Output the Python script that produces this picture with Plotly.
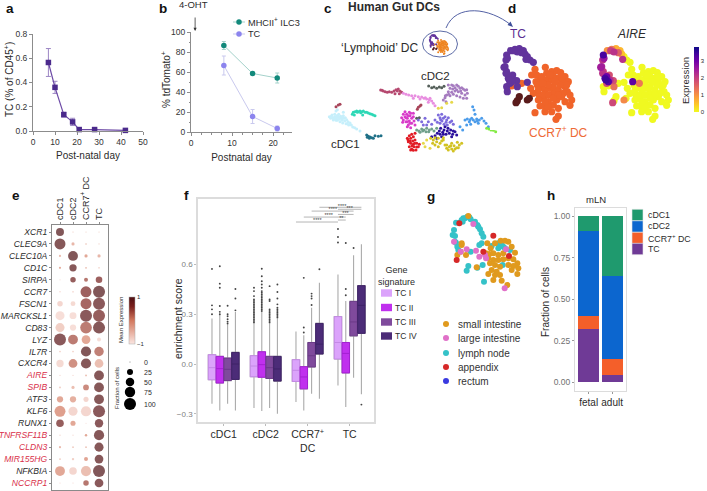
import numpy as np
import plotly.graph_objects as go

W, H = 707, 491
FONT = "Liberation Sans"
DARK = "#2b2b2b"

# ---------- panel a ----------
a_day = [7, 10, 14, 18, 21, 28, 42]
a_tc = [0.565, 0.36, 0.135, 0.075, 0.012, 0.012, 0.005]
a_err = [0.115, 0.05, 0.02, 0.03, 0.01, 0.01, 0.005]
# ---------- panel b ----------
b_day = [8, 15, 21]
b_ilc3 = [86.5, 58.5, 54]
b_ilc3_err = [4, 1.5, 5]
b_tc = [66.5, 15.5, 3.5]
b_tc_err = [9.5, 7, 2.5]
# ---------- panel c : embedding clusters ----------
c_lightblue = [(28,125),(32,130),(36,120),(38,128),(40,135),(44,118),(44,125),(46,132),(50,122),(50,128),(52,136),(56,118),(56,126),(58,132),(60,140),(62,124),(64,130),(66,136),(68,144),(70,122),(72,130),(74,138),(76,128),(78,146),(80,134),(84,140),(86,150),(90,144),(94,150),(98,156),(104,158),(110,162),(120,168),(48,108),(52,104),(70,112),(34,124),(42,130),(54,122),(60,128),(48,136),(68,130),(82,146)]
c_turquoise = [(97,118),(100,112),(105,110),(110,108),(115,110),(120,108),(125,110),(130,108),(135,112),(140,112),(145,114),(150,116),(155,118),(160,120),(165,122),(103,120),(128,120),(112,112),(122,113)]
c_darkteal = [(140,180),(145,184),(150,186),(155,188),(160,190),(142,187),(165,182),(175,184),(183,182),(148,190)]
c_brown = [(48,95),(55,90),(60,88),(295,97),(300,93),(303,90),(292,103)]
c_rose = [(182,45),(190,48),(196,50),(202,52),(208,50),(215,52),(222,48),(228,44),(235,42),(240,48),(245,52),(238,56),(225,56),(186,46),(232,48)]
c_pink = [(250,55),(258,58),(266,60),(275,62),(285,62),(295,65),(305,66),(312,70),(320,72),(328,74),(335,78),(340,85),(325,82),(300,72),(280,70),(345,92),(316,68),(330,70)]
c_mauve = [(370,75),(375,68),(380,60),(385,50),(390,40),(395,30),(400,32),(405,38),(410,30),(415,34),(420,40),(425,38),(430,42),(435,46),(440,44),(442,55),(435,60),(425,55),(415,50),(405,48),(395,52),(390,62),(400,58),(410,62),(420,66),(430,70),(378,80),(440,70),(385,30),(398,42),(410,44),(422,48),(386,58),(376,62)]
c_grey = [(326,33),(335,38),(342,36),(350,40),(358,36),(365,38),(372,34),(290,130),(298,128)]
c_magenta = [(245,128),(250,118),(250,135),(255,125),(255,110),(258,140),(260,118),(262,130),(265,150),(268,112),(268,138),(270,122),(272,158),(275,130),(275,145),(280,115),(280,125),(282,138),(285,150),(262,155),(248,142),(258,128),(265,122),(270,145),(262,140),(272,115)]
c_violet = [(295,135),(305,140),(315,130),(325,140),(335,148),(310,150),(320,150),(345,135),(355,120),(360,128),(365,118),(370,130),(375,125),(380,135),(385,128),(390,142),(395,138),(360,145),(372,148),(382,150),(400,148),(352,142),(366,138),(378,142),(362,134)]
c_navy = [(335,185),(345,182),(352,175),(358,168),(362,160),(368,172),(372,165),(378,178),(382,168),(388,175),(392,165),(398,178),(405,170),(410,180),(375,155),(365,185),(395,185),(350,190),(370,178),(384,160),(400,168),(360,178)]
c_sage = [(290,165),(297,168),(305,162),(312,165),(320,160),(328,165),(335,162),(342,168),(350,160),(318,170),(300,172),(308,168),(326,170)]
c_red = [(262,190),(268,182),(272,190),(275,178),(280,185),(265,200),(272,205),(278,198),(285,195),(290,205),(268,215),(275,222),(282,215),(288,225),(295,215),(298,208),(280,208),(285,175),(272,225),(264,194),(270,198),(276,212),(284,205),(290,216),(280,226)]
c_olive = [(332,190),(340,195),(338,205),(345,210),(350,200),(355,190),(360,205),(365,198),(370,188),(355,215),(375,210),(380,220),(388,215),(395,222),(402,212),(410,218),(418,210),(425,205),(412,202),(395,205),(385,225),(400,228),(370,195),(345,188),(392,212),(405,222),(380,210),(415,218)]
c_blue = [(435,135),(442,132),(448,140),(455,130),(460,135),(465,140),(470,132),(478,135),(485,130),(492,138),(498,145),(505,155),(458,95),(462,105),(465,118),(452,148),(475,145),(440,150),(420,155),(428,165),(450,134),(472,138)]
c_lime = [(500,160),(507,162),(513,165),(520,166),(527,170)]
c_yellow = [(355,100),(365,98),(380,85),(395,82),(320,195),(315,215),(310,205),(330,220)]
c_clusters = [(c_lightblue, "#c6effb"), (c_turquoise, "#2ed8b6"), (c_darkteal, "#1f7087"),
              (c_brown, "#a8455a"), (c_rose, "#b5486f"), (c_pink, "#e88ee0"), (c_mauve, "#a67cc0"),
              (c_grey, "#55605a"), (c_magenta, "#d83cc9"), (c_violet, "#7d6cdc"), (c_navy, "#2a0f9c"),
              (c_sage, "#70a08a"), (c_red, "#e11b24"), (c_olive, "#d2c222"), (c_blue, "#4c9cea"),
              (c_lime, "#82ea42"), (c_yellow, "#e6d84a")]
# ---------- panel d : lymphoid DC embedding and AIRE expression ----------
d_tc = [(52,185),(50,170),(60,160),(70,150),(55,145),(48,130),(42,112),(48,90),(50,75),(62,62),(75,58),(88,56),(100,62),(105,72),(112,80),(120,90),(130,97),(60,140),(68,135),(80,152),(82,170),(112,157),(65,155),(95,68),(82,66),(72,62),(52,85),(45,110),(50,125),(58,150),(108,88)]
d_tc_expr = [0,0,1.8,2.3,3.4,2.2,2.5,2.2,3.4,1.0,1.3,0.7,0.6,0.5,0,0,0,3.0,1.8,1.8,1.4,0,3.3,1.6,2.2,2.0,2.6,2.4,2.0,3.5,2.2]
d_ccr7 = [(166,112),(135,118),(125,135),(140,135),(150,150),(138,155),(95,160),(65,168),(122,175),(130,190),(142,165),(155,140),(170,130),(185,125),(200,122),(212,128),(225,140),(235,155),(225,170),(232,185),(240,195),(245,210),(240,226),(225,215),(215,200),(200,210),(190,190),(178,175),(165,180),(155,172),(148,195),(160,205),(175,215),(165,228),(150,228),(190,225),(205,235),(185,245),(165,245),(135,248),(205,258),(198,268),(170,150),(185,150),(200,145),(215,155),(190,170),(205,180),(160,195),(175,195),(210,165),(190,140),(175,165),(158,160),(145,180),(180,135),(195,155),(215,140),(220,190),(205,195),(190,205),(175,230),(145,210),(165,215),(230,165)]
d_ccr7_expr = [0,0,0,0,0,3.2,0,0,0,0,0,0,0,0,0,0,0,0,0,0,0,0,0,0,0,0,0,0,0,0,0,0,0,0,0,0,0,0,0,0,0,0,0,0,0,0,0,0,0,0,0,0,0,1.3,0,0,0,0,0,0,0,0,0,0,0]
d_other = [(88,200),(82,212),(78,218),(112,210),(118,205)]
d_other_expr = [0,0,1.9,1.1,0]
# ---------- panel e ----------
e_cells = ["cDC1", "cDC2", "CCR7<sup>+</sup> DC", "TC"]
e_genes = ["XCR1","CLEC9A","CLEC10A","CD1C","SIRPA","CCR7","FSCN1","MARCKSL1","CD83","LYZ","IL7R","CXCR4","AIRE","SPIB","ATF3","KLF6","RUNX1","TNFRSF11B","CLDN3","MIR155HG","NFKBIA","NCCRP1"]
e_red_genes = ["AIRE","SPIB","TNFRSF11B","CLDN3","MIR155HG","NCCRP1"]
e_fraction = [[44,1,1,1],[83,7,1.5,0.5],[3,67,7,7],[3,37,2,1.5],[0.5,21,11,30],[1.5,2,83,100],[21,16,83,100],[57,33,100,100],[57,27,94,100],[100,67,53,11],[2,2,72,62],[37,53,72,53],[1,1,2,67],[2,7,23,67],[27,27,18,67],[83,57,72,100],[40,18,1,49],[1,1,4,72],[3,2,2,57],[2,4,11,53],[67,40,72,100],[0.5,0.5,21,53]]
e_mean = [[1,-.5,-.6,-.6],[.95,-.3,-.3,-.6],[-.3,1,-.1,-.3],[-.1,.95,-.3,-.3],[-.8,.75,.4,.65],[-.7,-.7,.65,1],[-.7,-.75,.55,.9],[-.8,-.8,.9,.75],[-.6,-.8,.35,.95],[.9,.35,-.1,-.8],[-.6,-.6,1,.3],[-.75,.15,.95,-.4],[-.7,-.7,-.3,.95],[-.5,-.4,.2,.95],[-.1,-.2,-.7,.95],[0,-.7,-.7,.9],[.75,-.1,-.8,.9],[-.6,-.7,-.1,.95],[-.3,-.5,-.4,.95],[-.5,-.6,-.05,.95],[-.1,-.7,-.4,1],[-.7,-.7,.4,.9]]
e_size_levels = [0, 25, 50, 75, 100]
# ---------- panel f ----------
f_groups = ["cDC1", "cDC2", "CCR7<sup>+</sup><br>DC", "TC"]
f_signatures = ["TC I", "TC II", "TC III", "TC IV"]
f_q1 = [[-.095,-.115,-.10,-.093],[-.077,-.08,-.087,-.103],[-.105,-.15,-.018,.06],[.03,-.054,.17,.185]]
f_med = [[-.022,-.028,-.032,0],[-.012,-.004,-.022,-.03],[-.038,-.078,.05,.12],[.13,.064,.254,.354]]
f_q3 = [[.056,.046,.036,.07],[.05,.074,.046,.046],[.026,-.016,.13,.245],[.286,.13,.378,.473]]
f_low = [[-.24,-.28,-.24,-.28],[-.266,-.284,-.266,-.30],[-.23,-.28,-.18,-.21],[-.13,-.26,-.083,-.183]]
f_up = [[.274,.30,.24,.314],[.244,.314,.244,.274],[.197,.173,.34,.49],[.54,.38,.656,.723]]
f_outliers = [
    [[.30,.33,.354,.574],[.30,.315,.35,.46,.485,.59],[.244,.255,.27,.288,.30,.352],[.324,.395,.453]],
    [[.25,.26,.27,.28,.29,.30,.31,.32,.33,.34,.35,.36,.37,.38,.39,.41,.44,.46],
     [.32,.33,.34,.35,.36,.37,.38,.39,.40,.41,.42,.43,.44,.46,.48,.50,.53,.575],
     [.25,.26,.27,.28,.29,.30,.31,.32,.33,.38,.39,.47],
     [.28,.29,.30,.31,.32,.33,.34,.36,.395,.435,.48]],
    [[],[.19,.22,.52],[.356,.395,.41,.425],[.572]],
    [[.733,.767,.815],[.415,.453,.73],[.70],[-.245]],
]
f_fill = ["#dba3fb", "#c030ee", "#7f4a9c", "#4c2c78"]
f_edge = ["#c488e6", "#a31fd2", "#6a3a88", "#3e2266"]
# brackets: (group, signature) pairs, height, stars, star position as a box index
f_brackets = [((2,3),(3,3),.946,"****",2.82),((3,0),(3,3),.934,"***",3.0),
              ((2,2),(3,2),.923,"****",2.60),((3,0),(3,2),.903,"***",2.90),
              ((2,1),(3,1),.887,"****",2.50),((3,0),(3,1),.869,"**",2.80),
              ((2,0),(3,0),.857,"****",2.23)]
# ---------- panel g ----------
g_teal = [(78,68),(72,90),(68,105),(75,108),(78,128),(82,140),(85,150),(98,65),(105,55),(112,50),(122,58),(135,65),(142,75),(150,88),(155,100),(160,110),(148,135),(155,130),(122,155),(115,198),(110,212),(142,203),(158,195),(162,245),(185,138),(205,130),(215,135),(225,145),(240,150),(205,145),(218,195),(100,55),(118,52),(95,60),(75,125),(88,68),(145,80),(220,140)]
g_orange = [(95,135),(92,155),(82,165),(108,165),(172,130),(195,130),(212,122),(225,122),(235,125),(245,140),(255,158),(182,145),(168,160),(190,160),(205,165),(220,160),(175,175),(190,180),(205,180),(220,178),(235,175),(250,178),(262,190),(250,198),(265,205),(245,210),(262,222),(180,190),(195,195),(210,200),(200,215),(185,210),(175,222),(195,225),(210,225),(190,240),(215,242),(232,255),(140,202),(178,162),(235,195),(115,48),(95,130)]
g_pink = [(130,72),(72,125),(110,148),(92,155),(138,152),(148,170),(165,165),(168,175),(224,265),(228,148)]
g_red = [(88,70),(190,107),(80,180),(237,168),(160,155)]
g_rectum = []
g_tissues = ["small intestine", "large intestine", "lymph node", "appendix", "rectum"]
g_colors = ["#e09a1e", "#e070c8", "#35c2c8", "#d62828", "#3a3ae0"]
# ---------- panel h ----------
h_stage = ["fetal", "adult"]
h_types = ["TC", "CCR7<sup>+</sup> DC", "cDC2", "cDC1"]
h_values = [[.32, .04], [.08, .10], [.51, .50], [.09, .36]]
h_colors = ["#6f3a96", "#f45f2a", "#0c66cf", "#1f9a6e"]

fig = go.Figure()
layout = {}
shapes, notes = [], []
n_ax = [0]


def px(x):
    return x / W


def py(y):
    return 1 - y / H


def axes(x0, x1, y0, y1, xa=None, ya=None):
    n_ax[0] += 1
    n = n_ax[0]
    s = "" if n == 1 else str(n)
    xa, ya = dict(xa or {}), dict(ya or {})
    xa.update(domain=[px(x0), px(x1)], anchor="y" + s)
    ya.update(domain=[py(y1), py(y0)], anchor="x" + s)
    layout["xaxis" + s] = xa
    layout["yaxis" + s] = ya
    return "x" + s, "y" + s


def hidden(xr, yr):
    return dict(visible=False, range=xr, fixedrange=True), dict(visible=False, range=yr, fixedrange=True)


def text(x, y, s, size=10, color=DARK, anchor="left", angle=0, **kw):
    x = x - 1.5 if anchor == "left" else x + 1.5 if anchor == "right" else x
    notes.append(dict(x=px(x), y=py(y), xref="paper", yref="paper", text=s, showarrow=False,
                      font=dict(family=FONT, size=size, color=color), xanchor=anchor, yanchor="middle",
                      textangle=angle, align="center", **kw))


def rect(x0, y0, x1, y1, fill, line=None):
    shapes.append(dict(type="rect", xref="paper", yref="paper", x0=px(x0), x1=px(x1), y0=py(y0), y1=py(y1),
                       fillcolor=fill, line=dict(color=line or fill, width=0.6 if line else 0)))


def dot(x, y, d, fill):
    shapes.append(dict(type="circle", xref="paper", yref="paper", x0=px(x - d / 2), x1=px(x + d / 2),
                       y0=py(y - d / 2), y1=py(y + d / 2), fillcolor=fill, line=dict(width=0)))


def seg(x0, y0, x1, y1, color, width=1):
    shapes.append(dict(type="line", xref="paper", yref="paper", x0=px(x0), x1=px(x1), y0=py(y0), y1=py(y1),
                       line=dict(color=color, width=width)))


def xs(p):
    return [q[0] for q in p]


def ys(p):
    return [q[1] for q in p]


AX = "#8c8c8c"
tick = dict(showgrid=False, zeroline=False, showline=True, linecolor=AX, linewidth=1, ticks="outside",
            ticklen=3, tickcolor=AX, tickfont=dict(family=FONT, size=8.5, color="#333333"), fixedrange=True)
title_f = dict(family=FONT, size=10, color=DARK)

# a
xa, ya = axes(33, 143, 34, 131,
              dict(tick, range=[0, 50], tickvals=[0, 10, 20, 30, 40, 50],
                   title=dict(text="Post-natal day", font=title_f, standoff=5)),
              dict(tick, range=[0, 0.8], tickvals=[0, .2, .4, .6, .8], tickformat=".1f"))
text(9, 80, "TC (% of CD45<sup>+</sup>)", 10, anchor="center", angle=-90)
fig.add_trace(go.Scatter(x=a_day, y=a_tc, xaxis=xa, yaxis=ya, mode="lines+markers", showlegend=False, cliponaxis=False,
                         line=dict(color="#6d4aa6", width=1.2), marker=dict(symbol="square", size=5.5, color="#4b2a8c"),
                         error_y=dict(type="data", array=a_err, color="#9c86c4", thickness=1, width=2.5)))

# b
xa, ya = axes(191, 292, 32, 132,
              dict(tick, range=[0, 24.6], tickvals=[0, 10, 20], minor=dict(ticks="outside", ticklen=1.5, dtick=2.5, tickcolor=AX),
                   title=dict(text="Postnatal day", font=title_f, standoff=6)),
              dict(tick, range=[0, 100], tickvals=[0, 20, 40, 60, 80, 100],
                   minor=dict(ticks="outside", ticklen=1.5, dtick=10, tickcolor=AX)))
text(166, 80, "% tdTomato<sup>+</sup>", 10, anchor="center", angle=-90)
for vals, err, lc, mc in [(b_tc, b_tc_err, "#c9c9ee", "#8c84ee"), (b_ilc3, b_ilc3_err, "#a5d2cb", "#12897b")]:
    fig.add_trace(go.Scatter(x=b_day, y=vals, xaxis=xa, yaxis=ya, mode="lines+markers", showlegend=False, cliponaxis=False,
                             line=dict(color=lc, width=1), marker=dict(size=5.5, color=mc),
                             error_y=dict(type="data", array=err, color=lc, thickness=1, width=2)))
for yy, lab, lc, mc in [(22, "MHCII<sup>+</sup> ILC3", "#a5d2cb", "#12897b"), (34, "TC", "#c9c9ee", "#8c84ee")]:
    seg(233, yy, 245, yy, lc)
    dot(239, yy, 5.5, mc)
    text(247.5, yy, lab, 9.2)
notes.append(dict(x=1, y=100, xref=xa, yref=ya, text="", showarrow=True, ax=0, ay=-16, axref="pixel", ayref="pixel",
                  arrowhead=2, arrowsize=0.8, arrowwidth=0.8, arrowcolor="#333333", standoff=1))
text(193, 4, "4-OHT", 9.5, anchor="center")

# c
xa, ya = axes(320, 510, 75, 165, *hidden([0, 570], [270, 0]))
for pts, col in c_clusters:
    fig.add_trace(go.Scatter(x=xs(pts), y=ys(pts), xaxis=xa, yaxis=ya, mode="markers", showlegend=False,
                             marker=dict(size=3, color=col, line=dict(width=0))))
shapes.append(dict(type="circle", xref="paper", yref="paper", x0=px(422.5), x1=px(457.5), y0=py(57), y1=py(31),
                   line=dict(color="#4a5a9c", width=0.9)))
# d left + mini copy
xa, ya = axes(490, 610, 30, 130, *hidden([0, 360], [300, 0]))
xm, ym = axes(426, 458.5, 30, 57, *hidden([0, 360], [300, 0]))
for pts, col in [(d_ccr7, "#f0642a"), (d_other, "#5a1c1c"), (d_tc, "#62349c")]:
    fig.add_trace(go.Scatter(x=xs(pts), y=ys(pts), xaxis=xa, yaxis=ya, mode="markers", showlegend=False,
                             marker=dict(size=7.2, color=col, line=dict(width=0))))
    fig.add_trace(go.Scatter(x=xs(pts), y=ys(pts), xaxis=xm, yaxis=ym, mode="markers", showlegend=False,
                             marker=dict(size=2, color=col if col != "#f0642a" else "#ee8420", line=dict(width=0))))
# d right
xa, ya = axes(590, 707, 30, 130, *hidden([10, 361], [300, 0]))
d_all = d_ccr7 + d_other + d_tc
d_expr = np.array(d_ccr7_expr + d_other_expr + d_tc_expr)
order = np.argsort(d_expr, kind="stable")
fig.add_trace(go.Scatter(x=[d_all[i][0] for i in order], y=[d_all[i][1] for i in order], xaxis=xa, yaxis=ya,
                         mode="markers", showlegend=False,
                         marker=dict(size=7.2, color=d_expr[order], colorscale="Plasma", reversescale=True, cmin=0, cmax=3.85,
                                     line=dict(width=0),
                                     colorbar=dict(x=px(694), xanchor="left", xpad=0, y=py(47), yanchor="top", ypad=0,
                                                   len=65, lenmode="pixels", thickness=5, outlinewidth=0,
                                                   tickvals=[0, 1, 2, 3], ticks="", ticklabelposition="outside",
                                                   tickfont=dict(family=FONT, size=6, color=DARK)))))
text(685, 81, "Expression", 9.5, anchor="center", angle=-90)
text(518, 34, "TC", 12, "#5a2d91", "center")
text(632, 34, "<i>AIRE</i>", 12, anchor="center")
text(558, 132, "CCR7<sup>+</sup> DC", 12, "#ee6a35", "center")
text(394, 7, "<b>Human Gut DCs</b>", 12, anchor="center")
text(418, 48, "\u2018Lymphoid\u2019 DC", 12, anchor="right")
text(435, 76, "cDC2", 11.5, anchor="center")
text(345, 144, "cDC1", 11.5, anchor="center")
shapes.append(dict(type="path", xref="paper", yref="paper", line=dict(color="#3f4f9a", width=0.9),
                   path=f"M {px(446)} {py(28)} C {px(456)} {py(3)} {px(490)} {py(8)} {px(511)} {py(25)}"))
shapes.append(dict(type="path", xref="paper", yref="paper", fillcolor="#3f4f9a", line=dict(width=0),
                   path=f"M {px(513)} {py(27)} L {px(507.5)} {py(25)} L {px(510.5)} {py(21.5)} Z"))

# e
e_x, e_y, e_s, e_c = [], [], [], []
for gi, g in enumerate(e_genes):
    for ci, c in enumerate(e_cells):
        e_x.append(c)
        e_y.append(g)
        e_s.append(e_fraction[gi][ci])
        e_c.append(e_mean[gi][ci])
e_ticktext = [f'<i><span style="color:#d9304a">{g}</span></i>' if g in e_red_genes else f"<i>{g}</i>" for g in e_genes]
box_e = dict(tick, showline=True, mirror=True, linecolor="#8a8a8a", linewidth=1.2, ticklen=2, tickfont=dict(family=FONT, size=8.6, color=DARK))
xa, ya = axes(52, 108, 225, 490,
              dict(box_e, type="category", side="top", categoryarray=e_cells, categoryorder="array",
                   range=[-0.615, 3.69], tickangle=-90, tickfont=dict(family=FONT, size=9, color=DARK)),
              dict(box_e, type="category", tickvals=e_genes, ticktext=e_ticktext, categoryarray=e_genes,
                   categoryorder="array", range=[21.586, -0.586]))
fig.add_trace(go.Scatter(x=e_x, y=e_y, xaxis=xa, yaxis=ya, mode="markers", showlegend=False,
                         marker=dict(size=e_s, sizemode="area", sizeref=200 / 144, sizemin=0.6, color=e_c, cmin=-1, cmax=1,
                                     line=dict(width=0),
                                     colorscale=[[0, "#fbe6e1"], [0.5, "#d2785e"], [0.8, "#7a1f1c"], [1, "#4d0f12"]],
                                     colorbar=dict(x=px(129), xanchor="left", xpad=0, y=py(297), yanchor="top", ypad=0,
                                                   len=47, lenmode="pixels", thickness=6, outlinewidth=0.5, outlinecolor="#aaaaaa",
                                                   tickvals=[-1, 1], ticks="", tickfont=dict(family=FONT, size=6, color=DARK)))))
text(121, 320, "Mean Expression", 6, anchor="center", angle=-90)
text(117, 388, "Fraction of cells", 6, anchor="center", angle=-90)
for lv, yy in zip(e_size_levels, [362, 372, 382, 392, 404]):
    dot(130, yy, max(12 * np.sqrt(lv / 100), 0.8), "#000000")
    text(143, yy, str(lv), 7)

# f
off = [-.279, -.093, .093, .279]
xa, ya = axes(198, 374, 199, 422,
              dict(showgrid=False, zeroline=False, showline=True, mirror=True, linecolor="#dcdcdc", linewidth=1.5,
                   ticks="outside", ticklen=2, tickcolor="#bbbbbb", range=[-.612, 3.579], tickvals=[0, 1, 2, 3],
                   ticktext=f_groups, tickfont=dict(family=FONT, size=10.5, color=DARK), fixedrange=True),
              dict(showgrid=False, zeroline=False, showline=True, mirror=True, linecolor="#dcdcdc", linewidth=1.5,
                   ticks="outside", ticklen=2, tickcolor="#bbbbbb", range=[-.35, .996], tickvals=[-.3, 0, .3, .6],
                   ticktext=["\u22120.3", "0.0", "0.3", "0.6"], tickfont=dict(family=FONT, size=8, color="#808080"), fixedrange=True))
text(178, 318, "enrichment score", 10.5, anchor="center", angle=-90)
for s in range(4):
    pos = [g + off[s] for g in range(4)]
    q1 = [f_q1[g][s] for g in range(4)]
    med = [f_med[g][s] for g in range(4)]
    q3 = [f_q3[g][s] for g in range(4)]
    low = [f_low[g][s] for g in range(4)]
    up = [f_up[g][s] for g in range(4)]
    fig.add_trace(go.Box(x=pos, q1=q1, median=med, q3=q3, lowerfence=low, upperfence=up, xaxis=xa, yaxis=ya, width=.178,
                         whiskerwidth=0, boxpoints=False, line=dict(color="#ababab", width=1.1), fillcolor="rgba(0,0,0,0)",
                         showlegend=False))
for s in range(4):
    pos = [g + off[s] for g in range(4)]
    q1 = [f_q1[g][s] for g in range(4)]
    med = [f_med[g][s] for g in range(4)]
    q3 = [f_q3[g][s] for g in range(4)]
    fig.add_trace(go.Box(x=pos, q1=q1, median=med, q3=q3, lowerfence=q1, upperfence=q3, xaxis=xa, yaxis=ya, width=.178,
                         whiskerwidth=0, boxpoints=False, line=dict(color=f_edge[s], width=1), fillcolor=f_fill[s],
                         name=f_signatures[s], showlegend=False))
    ox, oy = [], []
    for g in range(4):
        ox += [g + off[s]] * len(f_outliers[g][s])
        oy += f_outliers[g][s]
    fig.add_trace(go.Scatter(x=ox, y=oy, xaxis=xa, yaxis=ya, mode="markers", showlegend=False,
                             marker=dict(size=1.9, color="#444444", line=dict(width=0))))
bx, by, tx, ty, tt = [], [], [], [], []
for (g0, s0), (g1, s1), h, stars, tp in f_brackets:
    bx += [g0 + off[s0], g1 + off[s1], None]
    by += [h, h, None]
    tx.append(tp)
    ty.append(h + .006)
    tt.append(stars)
fig.add_trace(go.Scatter(x=bx, y=by, xaxis=xa, yaxis=ya, mode="lines", showlegend=False, line=dict(color="#b5b5b5", width=1)))
fig.add_trace(go.Scatter(x=tx, y=ty, xaxis=xa, yaxis=ya, mode="text", text=tt, showlegend=False,
                         textfont=dict(family=FONT, size=5.5, color="#444444")))
text(396, 276, "Gene<br>signature", 9, anchor="center")
for s, yy in zip(range(4), [293, 307.5, 322, 336]):
    rect(381, yy - 3.7, 392, yy + 3.7, f_fill[s])
    text(394, yy, f_signatures[s], 8.5)

# g
xa, ya = axes(430, 530, 200, 300, *hidden([0, 300], [300, 0]))
for pts, col in [(g_teal, g_colors[2]), (g_orange, g_colors[0]), (g_pink, g_colors[1]), (g_red, g_colors[3]), (g_rectum, g_colors[4])]:
    fig.add_trace(go.Scatter(x=xs(pts), y=ys(pts), xaxis=xa, yaxis=ya, mode="markers", showlegend=False,
                             marker=dict(size=6, color=col, line=dict(width=0))))
for lab, col, yy in zip(g_tissues, g_colors, [324, 338, 353, 367, 381]):
    dot(446, yy, 6, col)
    text(457, yy, lab, 10, "#333333")

# h
xa, ya = axes(575, 626, 208, 391,
              dict(showgrid=False, zeroline=False, showline=True, mirror=True, linecolor="#dcdcdc", linewidth=1.2,
                   ticks="outside", ticklen=2, tickcolor="#999999", type="category", range=[-.583, 1.59], fixedrange=True,
                   categoryarray=h_stage, tickfont=dict(family=FONT, size=10, color=DARK)),
              dict(showgrid=False, zeroline=False, showline=True, mirror=True, linecolor="#dcdcdc", linewidth=1.2,
                   ticks="outside", ticklen=2, tickcolor="#999999", range=[-.054, 1.05], tickvals=[0, .25, .5, .75, 1],
                   tickformat=".2f", tickfont=dict(family=FONT, size=8.5, color="#707070"), fixedrange=True))
text(545, 302, "Fraction of cells", 10, anchor="center", angle=-90)
for t, vals, col in zip(h_types, h_values, h_colors):
    fig.add_trace(go.Bar(x=h_stage, y=vals, xaxis=xa, yaxis=ya, name=t, marker=dict(color=col, line=dict(width=0)),
                         width=.9, showlegend=False))
text(596, 199, "mLN", 9.5, anchor="center")
for i, (t, col, yy) in enumerate(zip(h_types[::-1], h_colors[::-1], [215, 226.5, 238, 249])):
    rect(632, yy - 5.7, 643, yy + 5.7, col, "#e5e5e5")
    text(647, yy, t, 8.8)

# panel letters
for s, x, y in [("a", 5, 9), ("b", 158, 9), ("c", 323, 9), ("d", 507, 9), ("e", 11, 195), ("f", 183, 195), ("g", 426, 196), ("h", 546, 195)]:
    text(x, y, f"<b>{s}</b>", 13.5, "#111111")

fig.update_layout(width=W, height=H, margin=dict(l=0, r=0, t=0, b=0, autoexpand=False), paper_bgcolor="white",
                  plot_bgcolor="white", barmode="stack", boxmode="overlay", showlegend=False,
                  shapes=shapes, annotations=notes, font=dict(family=FONT), **layout)
fig.write_html("out.html", config=dict(displayModeBar=False), post_script="document.body.style.margin='0';document.body.style.overflow='hidden';")
